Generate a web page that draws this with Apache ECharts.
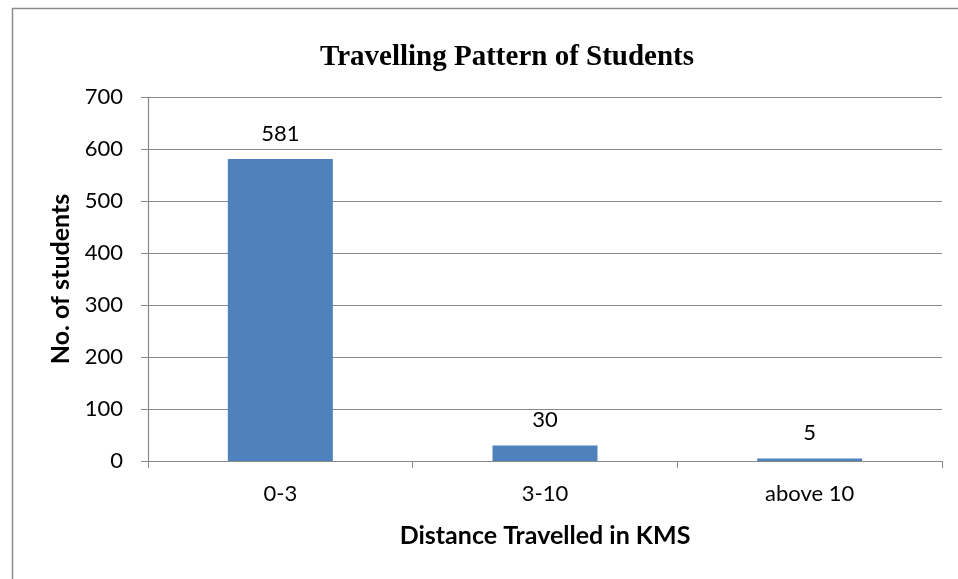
<!DOCTYPE html>
<html><head><meta charset="utf-8">
<script src="https://cdn.jsdelivr.net/npm/echarts@6/dist/echarts.min.js"></script>
<style>html,body{margin:0;padding:0;background:#fff}#c{width:958px;height:579px}</style>
</head><body><div id="c"></div>
<script>
const categories = ['0-3', '3-10', 'above 10'];
const students = [581, 30, 5];
const yTicks = [0, 100, 200, 300, 400, 500, 600, 700];

const chart = echarts.init(document.getElementById('c'));
chart.setOption({
  animation: false,
  graphic: [{type: 'rect', left: 10, top: 6, shape: {width: 960, height: 600}, style: {fill: 'none', stroke: '#8c8c8c', lineWidth: 1.5}, z: -1}],
  title: {text: 'Travelling Pattern of Students', left: 315, top: 38,
    textStyle: {fontFamily: 'Liberation Serif', fontWeight: 'bold', fontSize: 29, color: '#000'}},
  grid: {left: 148, right: 16, top: 97, bottom: 118},
  xAxis: {type: 'category', data: categories,
    name: 'Distance Travelled in KMS', nameLocation: 'middle', nameGap: 62,
    nameTextStyle: {fontFamily: 'Lato', fontWeight: 'bold', fontSize: 25, color: '#000'},
    axisLine: {lineStyle: {color: '#888', width: 1.2}},
    axisTick: {show: true, alignWithLabel: false, length: 7, lineStyle: {color: '#888'}},
    axisLabel: {fontFamily: 'Lato', fontSize: 22, color: '#000', margin: 22}},
  yAxis: {type: 'value', min: yTicks[0], max: yTicks[yTicks.length-1], interval: 100,
    name: 'No. of students', nameLocation: 'middle', nameGap: 75, nameRotate: 90,
    nameTextStyle: {fontFamily: 'Lato', fontWeight: 'bold', fontSize: 25, color: '#000'},
    axisLine: {show: true, lineStyle: {color: '#888', width: 1.2}},
    axisTick: {show: true, length: 7, lineStyle: {color: '#888'}},
    splitLine: {lineStyle: {color: '#888', width: 1}},
    axisLabel: {fontFamily: 'Lato', fontSize: 22, color: '#000', margin: 25}},
  series: [{type: 'bar', data: students, barWidth: 105,
    itemStyle: {color: '#4F81BD'},
    label: {show: true, position: 'top', distance: 14, fontFamily: 'Lato', fontSize: 22, color: '#000'}}]
});
</script></body></html>
